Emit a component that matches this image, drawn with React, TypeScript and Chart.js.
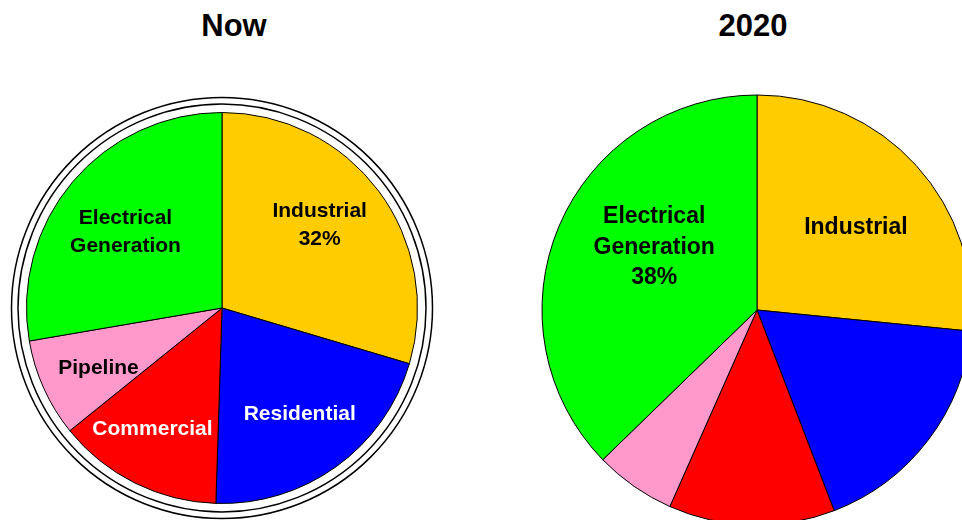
import React, { useEffect, useRef } from "react";
import { Chart, registerables } from "chart.js";

Chart.register(...registerables);

// ---- data ----
const categories = ["Industrial", "Residential", "Commercial", "Pipeline", "Electrical Generation"];
const nowValues = [29.6, 20.9, 13.7, 8.1, 27.7];
const future2020Values = [26.6, 17.6, 12.5, 6.1, 37.3];
const nowLabels = [["Industrial", "32%"], ["Residential"], ["Commercial"], ["Pipeline"], ["Electrical", "Generation"]];
const future2020Labels = [["Industrial"], [], [], [], ["Electrical", "Generation", "38%"]];
const titles = ["Now", "2020"];

// ---- styles ----
const sliceColors = ["#FFCC00", "#0000FF", "#FF0000", "#FF99CC", "#00FF00"];
const nowTextColors = ["#000", "#fff", "#fff", "#000", "#000"];
const future2020TextColors = ["#000", "#000", "#000", "#000", "#000"];
// label placement: fraction of radius along slice mid-angle, plus angle nudge (deg)
const nowLabelRadius = [0.66, 0.668, 0.71, 0.70, 0.632];
const nowLabelNudge = [-4.1, -0.7, 3.6, -1.2, -1.5];
const future2020LabelRadius = [0.602, 0, 0, 0, 0.564];
const future2020LabelNudge = [2, 0, 0, 0, 9.1];

const FONT = "'Liberation Sans', Arial, Helvetica, sans-serif";

function makeLabelPlugin(labels: string[][], colors: string[], radFrac: number[], nudge: number[], fontSize: number, lineH: number) {
  return {
    id: "sliceLabels",
    afterDatasetsDraw(chart: any) {
      const meta = chart.getDatasetMeta(0);
      const ctx = chart.ctx;
      ctx.save();
      ctx.font = `bold ${fontSize}px ${FONT}`;
      ctx.textAlign = "center";
      ctx.textBaseline = "middle";
      meta.data.forEach((arc: any, i: number) => {
        const lines = labels[i];
        if (!lines || !lines.length) return;
        const p = arc.getProps(["x", "y", "startAngle", "endAngle", "outerRadius"], true);
        const mid = (p.startAngle + p.endAngle) / 2 + (nudge[i] * Math.PI) / 180;
        const r = p.outerRadius * radFrac[i];
        const cx = p.x + Math.cos(mid) * r;
        const cy = p.y + Math.sin(mid) * r + 1.5;
        ctx.fillStyle = colors[i];
        const startY = cy - ((lines.length - 1) * lineH) / 2;
        lines.forEach((t, j) => ctx.fillText(t, cx, startY + j * lineH));
      });
      ctx.restore();
    },
  };
}

const ringPlugin = {
  id: "rings",
  afterDatasetsDraw(chart: any) {
    const arc = chart.getDatasetMeta(0).data[0];
    if (!arc) return;
    const ctx = chart.ctx;
    ctx.save();
    ctx.strokeStyle = "#000";
    ctx.lineWidth = 1.5;
    [204, 210.5].forEach((r) => {
      ctx.beginPath();
      ctx.arc(arc.x, arc.y, r, 0, Math.PI * 2);
      ctx.stroke();
    });
    ctx.restore();
  },
};

function PieCanvas(props: {
  values: number[];
  radius: number;
  size: number;
  left: number;
  top: number;
  plugins: any[];
}) {
  const ref = useRef<HTMLCanvasElement | null>(null);
  useEffect(() => {
    if (!ref.current) return;
    const chart = new Chart(ref.current, {
      type: "pie",
      data: {
        labels: categories,
        datasets: [
          {
            data: props.values,
            backgroundColor: sliceColors,
            borderColor: "#000",
            borderWidth: 1,
          },
        ],
      },
      options: {
        responsive: false,
        animation: false,
        radius: props.radius,
        layout: { padding: 0 },
        plugins: { legend: { display: false }, tooltip: { enabled: false }, title: { display: false } },
        events: [],
      } as any,
      plugins: props.plugins,
    });
    return () => chart.destroy();
  }, []);
  return (
    <canvas
      ref={ref}
      width={props.size}
      height={props.size}
      style={{ position: "absolute", left: props.left, top: props.top, width: props.size, height: props.size }}
    />
  );
}

const titleStyle: React.CSSProperties = {
  position: "absolute",
  font: `bold 31px ${FONT}`,
  lineHeight: "31px",
  color: "#000",
  transform: "translateX(-50%)",
  whiteSpace: "nowrap",
};

export default function App() {
  return (
    <div
      style={{
        position: "fixed",
        left: 0,
        top: 0,
        width: 962,
        height: 520,
        overflow: "hidden",
        background: "#fff",
      }}
    >
      <div style={{ ...titleStyle, left: 234, top: 10 }}>{titles[0]}</div>
      <div style={{ ...titleStyle, left: 753, top: 10 }}>{titles[1]}</div>
      <PieCanvas
        values={nowValues}
        radius={195.5}
        size={460}
        left={221.5 - 230}
        top={308.3 - 230}
        plugins={[ringPlugin, makeLabelPlugin(nowLabels, nowTextColors, nowLabelRadius, nowLabelNudge, 21, 28)]}
      />
      <PieCanvas
        values={future2020Values}
        radius={215}
        size={440}
        left={757 - 220}
        top={310 - 220}
        plugins={[makeLabelPlugin(future2020Labels, future2020TextColors, future2020LabelRadius, future2020LabelNudge, 23, 30.7)]}
      />
    </div>
  );
}
